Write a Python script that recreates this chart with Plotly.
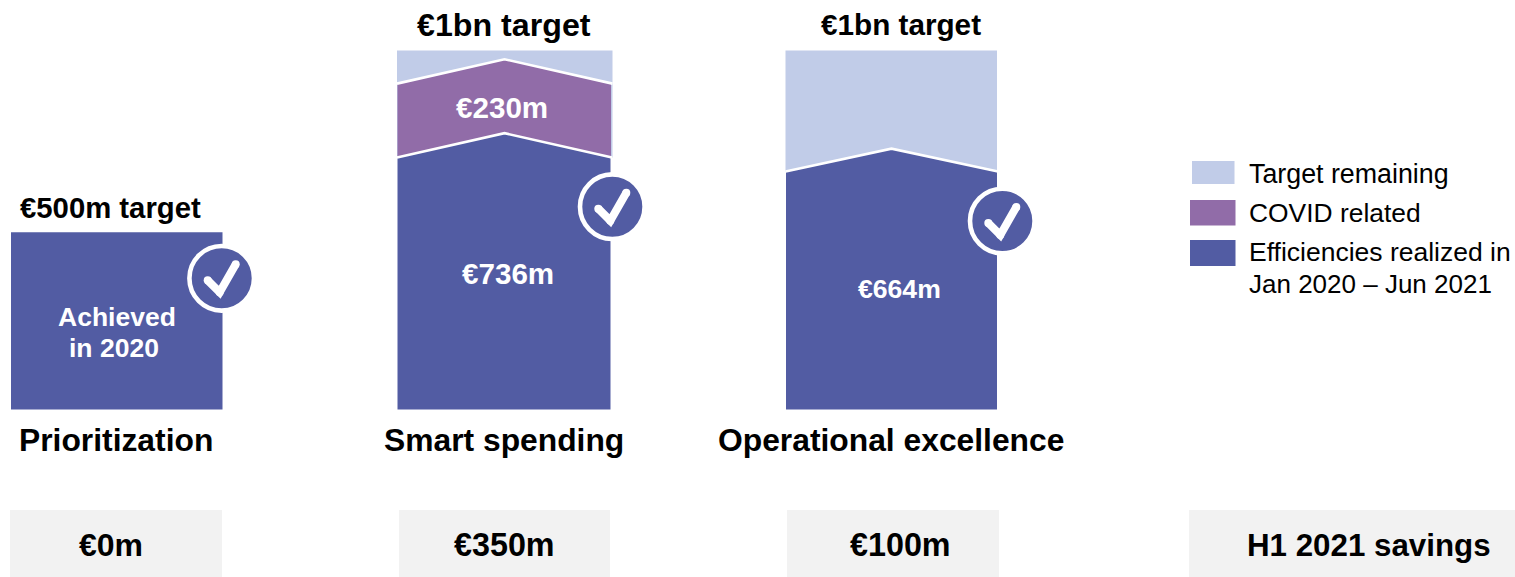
import plotly.graph_objects as go

# ---- data (EUR m) ----
categories = ["Prioritization", "Smart spending", "Operational excellence"]
target_labels = ["€500m target", "€1bn target", "€1bn target"]
h1_savings_labels = ["€0m", "€350m", "€100m", "H1 2021 savings"]
legend_labels = ["Target remaining", "COVID related", "Efficiencies realized in", "Jan 2020 – Jun 2021"]
target_tops = [494, 1000, 1000]
realized_edge = [494, 702, 663]
realized_peak = [494, 770, 727]
covid_edge = [None, 908, None]
covid_peak = [None, 976, None]
realized_text = ["€736m", "€664m"]
achieved_text = ["Achieved", "in 2020"]
covid_text = "€230m"

# ---- layout constants (pixels on the 1515x577 page) ----
W, H = 1515, 577
BASE_PX, TOP_PX = 409.6, 50.6        # px of 0 and of 1000
SCALE = (BASE_PX - TOP_PX) / 1000
def v(px):
    return (BASE_PX - px) / SCALE

BLUE, PURPLE, LIGHT, GREY = "#525ca3", "#916ca8", "#c1cce8", "#f2f2f2"
FONT = "Liberation Sans"
col_left = [11, 397.5, 786]
col_right = [222.5, 611, 997]
col_mid = [116.5, 504.5, 891.5]
badge_x = [221.7, 612.3, 1002.3]
badge_y = [278.3, 206.7, 221]
cat_x = [116, 503.5, 891]
target_x = [110.5, 504, 901]
target_y = [207.5, 24.5, 24.5]
target_fs = [29.3, 32.2, 29.7]
realized_tx = [507.5, 899.5]
realized_ty = [273.5, 289]
realized_fs = [29.6, 26.6]
box_left = [10, 399, 787, 1189]
box_right = [222, 610, 999, 1515]
saving_x = [110.5, 504, 900.5, 1369]
saving_fs = [32, 32.3, 32.3, 31.3]
legend_y = [174, 213, 252, 284]
legend_fs = [26.8, 26.4, 26.5, 26.0]

fig = go.Figure()

def poly(l, r, mid, base, edge, peak, color, dl=0.0, dr=0.0):
    fig.add_trace(go.Scatter(
        x=[l - dl, l - dl, mid, r + dr, r + dr, l - dl],
        y=[base, edge, peak, edge, base, base],
        mode="lines", fill="toself", fillcolor=color,
        line=dict(width=0, color=color), hoverinfo="skip", showlegend=False))

def sep(l, r, mid, edge, peak, dl=0.0, dr=0.0):
    fig.add_trace(go.Scatter(
        x=[l - dl, mid, r + dr], y=[edge, peak, edge], mode="lines",
        line=dict(width=2.6, color="white"), hoverinfo="skip", showlegend=False))

for i in range(3):
    l, r, m = col_left[i], col_right[i], col_mid[i]
    if target_tops[i] > realized_peak[i]:
        poly(l, r, m, realized_edge[i], target_tops[i], target_tops[i], LIGHT, 0.5, 1.5 if i == 1 else 0)
    if covid_edge[i] is not None:
        poly(l, r, m, realized_edge[i], covid_edge[i], covid_peak[i], PURPLE)
    poly(l, r, m, 0, realized_edge[i], realized_peak[i], BLUE, 0, -0.5 if i == 1 else 0)
    if covid_edge[i] is not None:
        sep(l, r, m, covid_edge[i], covid_peak[i], 0.5, 1.5)
    if realized_peak[i] != realized_edge[i]:
        sep(l, r, m, realized_edge[i], realized_peak[i], 0.5, 1)

shapes = []
annotations = []

def text(x, y, s, size, color="black", bold=True, anchor="center"):
    annotations.append(dict(
        x=x, y=v(y), xref="x", yref="y", text=f"<b>{s}</b>" if bold else s,
        showarrow=False, xanchor=anchor, yanchor="middle", align="left" if anchor == "left" else "center",
        font=dict(family=FONT, size=size, color=color)))

# badges: white ring, blue disc, rounded check mark
check_points = [(-14, -2), (-2, -14), (14, 14)]
CHECK_W = 8
for bx, by in zip(badge_x, badge_y):
    shapes.append(dict(type="circle", xref="x", yref="y", xsizemode="pixel", ysizemode="pixel",
                       xanchor=bx, yanchor=v(by), x0=-32.3, x1=32.3, y0=-32.3, y1=32.3,
                       fillcolor=BLUE, line=dict(color="white", width=4.6), layer="above"))
    a, b, c = check_points
    shapes.append(dict(type="path", xref="x", yref="y", xsizemode="pixel", ysizemode="pixel",
                       xanchor=bx, yanchor=v(by),
                       path=f"M {a[0]} {a[1]} L {b[0]} {b[1]} L {c[0]} {c[1]}",
                       line=dict(color="white", width=CHECK_W), layer="above"))
    for cx, cy in check_points:
        shapes.append(dict(type="circle", xref="x", yref="y", xsizemode="pixel", ysizemode="pixel",
                           xanchor=bx, yanchor=v(by), x0=cx - CHECK_W / 2, x1=cx + CHECK_W / 2,
                           y0=cy - CHECK_W / 2, y1=cy + CHECK_W / 2,
                           fillcolor="white", line=dict(width=0), layer="above"))

# bottom boxes
for l, r in zip(box_left, box_right):
    shapes.append(dict(type="rect", xref="x", yref="y", x0=l, x1=r, y0=v(510), y1=v(H),
                       fillcolor=GREY, line=dict(width=0), layer="below"))

# legend swatches
for (x0, x1, t, b), c in zip([(1192, 1234.5, 161, 184), (1190, 1235.5, 200, 225.5), (1190, 1235.5, 240, 266)],
                             [LIGHT, PURPLE, BLUE]):
    shapes.append(dict(type="rect", xref="x", yref="y", x0=x0, x1=x1, y0=v(t), y1=v(b),
                       fillcolor=c, line=dict(width=0), layer="above"))

for s, y, fs in zip(legend_labels, legend_y, legend_fs):
    text(1246.5, y, s, fs, bold=False, anchor="left")

for i in range(3):
    text(target_x[i], target_y[i], target_labels[i], target_fs[i])
    text(cat_x[i], 439.5, categories[i], 31.8)

text(116.5, 317, achieved_text[0], 26.5, color="white")
text(113.5, 348, achieved_text[1], 26.5, color="white")
for s, x, y, fs in zip(realized_text, realized_tx, realized_ty, realized_fs):
    text(x, y, s, fs, color="white")
text(501.5, 107.5, covid_text, 29.6, color="white")
for x, s, fs in zip(saving_x, h1_savings_labels, saving_fs):
    text(x, 545, s, fs)

fig.update_layout(
    width=W, height=H, margin=dict(l=0, r=0, t=0, b=0),
    paper_bgcolor="white", plot_bgcolor="white", showlegend=False,
    xaxis=dict(range=[0, W], visible=False, fixedrange=True),
    yaxis=dict(range=[v(H), v(0)], visible=False, fixedrange=True),
    shapes=shapes, annotations=annotations)

fig.write_html("out.html", config={"displayModeBar": False},
               post_script="document.body.style.margin='0';document.body.style.overflow='hidden';")
